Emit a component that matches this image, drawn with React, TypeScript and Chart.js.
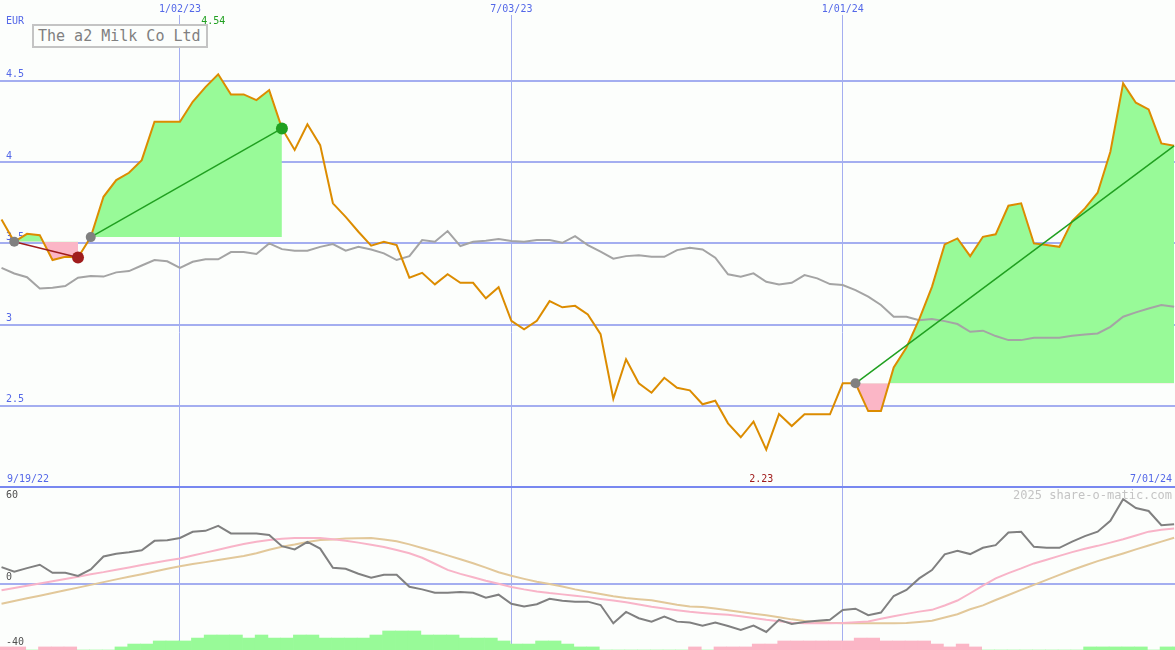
import React, { useEffect, useRef } from 'react';
import { Chart, registerables } from 'chart.js';

Chart.register(...registerables);

// ---------- data ----------
const FIRST_WEEK = -14; // weeks relative to 1/02/23
const X_MIN = -14.12;
const X_MAX = 78.07;

const X_TICKS = [0, 26, 52];
const X_TICK_LABELS = ['1/02/23', '7/03/23', '1/01/24'];
const START_LABEL = '9/19/22';
const END_LABEL = '7/01/24';
const CURRENCY = 'EUR';
const TITLE = 'The a2 Milk Co Ltd';
const WATERMARK = '2025 share-o-matic.com';

const PRICE_TICKS = [2.5, 3, 3.5, 4, 4.5];
const PRICE_MIN = 2;
const PRICE_MAX = 4.905;
const OSC_TICKS = [-40, 0, 60];
const OSC_MIN = -41.1;
const OSC_MAX = 60;

// share price (EUR), weekly
const PRICE = [
  3.646, 3.509, 3.558, 3.550, 3.397, 3.417, 3.413, 3.538, 3.786, 3.889,
  3.934, 4.012, 4.248, 4.248, 4.248, 4.371, 4.461, 4.54, 4.416, 4.416,
  4.381, 4.443, 4.207, 4.074, 4.232, 4.104, 3.746, 3.663, 3.571, 3.485,
  3.509, 3.489, 3.288, 3.318, 3.247, 3.310, 3.257, 3.257, 3.161, 3.230,
  3.023, 2.970, 3.023, 3.144, 3.106, 3.115, 3.062, 2.941, 2.543, 2.786,
  2.638, 2.580, 2.672, 2.611, 2.595, 2.509, 2.531, 2.392, 2.306, 2.402,
  2.23, 2.449, 2.375, 2.447, 2.447, 2.447, 2.638, 2.638, 2.467, 2.467,
  2.736, 2.859, 3.032, 3.232, 3.493, 3.530, 3.421, 3.540, 3.555, 3.731,
  3.746, 3.499, 3.489, 3.478, 3.637, 3.715, 3.811, 4.063, 4.484, 4.365,
  4.324, 4.115, 4.100,
];

// comparison index (scaled), weekly
const INDEX = [
  3.349, 3.314, 3.291, 3.222, 3.227, 3.237, 3.288, 3.298, 3.295, 3.321,
  3.329, 3.363, 3.397, 3.389, 3.349, 3.386, 3.401, 3.401, 3.446, 3.446,
  3.434, 3.499, 3.464, 3.454, 3.454, 3.478, 3.495, 3.454, 3.478, 3.462,
  3.438, 3.397, 3.421, 3.520, 3.509, 3.575, 3.483, 3.509, 3.515, 3.526,
  3.514, 3.509, 3.520, 3.520, 3.503, 3.544, 3.489, 3.448, 3.405, 3.421,
  3.427, 3.417, 3.417, 3.458, 3.472, 3.462, 3.411, 3.309, 3.294, 3.315,
  3.263, 3.247, 3.257, 3.304, 3.284, 3.249, 3.243, 3.212, 3.171, 3.120,
  3.048, 3.048, 3.027, 3.034, 3.021, 3.003, 2.955, 2.962, 2.929, 2.904,
  2.904, 2.918, 2.918, 2.918, 2.931, 2.939, 2.945, 2.986, 3.048, 3.075,
  3.099, 3.120, 3.109,
];

// oscillator (dark line)
const OSC = [
  10.3, 7.4, 9.7, 11.8, 6.8, 6.8, 4.8, 8.9, 16.9, 18.6,
  19.6, 20.8, 26.6, 27.0, 28.4, 32.2, 32.8, 35.9, 31.2, 31.2,
  31.2, 30.3, 23.3, 21.3, 26.0, 21.8, 9.9, 9.3, 6.2, 3.7,
  5.6, 5.6, -1.9, -3.5, -5.6, -5.6, -5.1, -5.6, -8.7, -6.8,
  -12.4, -14.1, -12.7, -9.3, -10.5, -11.1, -11.1, -13.2, -24.5, -17.5,
  -21.4, -23.5, -20.4, -23.5, -24.1, -26.0, -24.1, -26.2, -28.6, -26.0,
  -29.9, -22.4, -24.9, -23.7, -22.9, -22.4, -16.3, -15.5, -19.5, -17.9,
  -7.6, -3.9, 3.3, 8.5, 18.2, 20.4, 18.4, 22.3, 23.9, 31.8,
  32.2, 22.9, 22.3, 22.3, 26.1, 29.5, 32.3, 39.0, 52.4, 47.0,
  45.1, 36.3, 36.9,
];

// fast signal (pink)
const OSC_FAST = [
  -4.1, -2.7, -1.3, 0.1, 1.5, 3.0, 4.4, 5.9, 7.2, 8.7,
  10.1, 11.6, 13.0, 14.4, 15.7, 17.5, 19.3, 21.1, 22.9, 24.7,
  26.1, 27.1, 27.9, 28.3, 28.4, 28.4, 27.6, 26.7, 25.5, 24.2,
  22.8, 20.9, 18.9, 16.1, 12.4, 8.6, 6.1, 4.0, 1.9, 0.0,
  -2.0, -3.5, -4.8, -5.8, -6.6, -7.4, -8.3, -9.4, -10.4, -11.5,
  -12.9, -14.3, -15.3, -16.4, -17.4, -18.1, -18.7, -19.2, -20.2, -21.3,
  -22.4, -23.3, -24.2, -24.5, -24.5, -24.5, -24.3, -23.9, -23.4, -21.7,
  -20.2, -18.7, -17.3, -16.2, -13.5, -10.4, -5.9, -1.2, 3.3, 6.6,
  9.5, 12.6, 14.9, 17.3, 19.6, 21.7, 23.5, 25.5, 27.6, 29.9,
  32.3, 33.5, 34.2,
];

// slow signal (tan)
const OSC_SLOW = [
  -12.4, -10.7, -9.0, -7.4, -5.7, -4.0, -2.4, -0.7, 1.0, 2.7,
  4.3, 5.9, 7.6, 9.3, 10.9, 12.2, 13.4, 14.7, 15.9, 17.2,
  18.9, 21.1, 23.0, 24.3, 25.9, 27.1, 27.5, 28.0, 28.2, 28.4,
  27.4, 26.3, 24.4, 22.2, 20.0, 17.6, 15.2, 12.7, 10.0, 7.1,
  4.9, 3.0, 1.2, -0.1, -1.7, -3.5, -5.0, -6.4, -7.7, -8.8,
  -9.6, -10.3, -11.7, -13.1, -14.1, -14.5, -15.4, -16.4, -17.6, -18.6,
  -19.5, -20.8, -22.1, -23.1, -23.7, -24.2, -24.5, -24.5, -24.5, -24.5,
  -24.5, -24.4, -23.7, -23.0, -21.0, -18.9, -15.8, -13.4, -10.1, -7.0,
  -3.8, -0.7, 2.4, 5.5, 8.5, 11.3, 14.0, 16.4, 18.8, 21.3,
  23.7, 26.1, 28.5,
];

// histogram (signed)
const HIST = [
  -1.9, -1.9, 0, -1.9, -1.9, -1.9, 0, 0, 0, 1.9,
  3.7, 3.7, 5.6, 5.6, 5.6, 7.4, 9.3, 9.3, 9.3, 7.4,
  9.3, 7.4, 7.4, 9.3, 9.3, 7.4, 7.4, 7.4, 7.4, 9.3,
  11.8, 11.8, 11.8, 9.3, 9.3, 9.3, 7.4, 7.4, 7.4, 5.6,
  3.7, 3.7, 5.6, 5.6, 3.7, 1.9, 1.9, 0, 0, 0,
  0, 0, 0, 0, -1.9, 0, -1.9, -1.9, -1.9, -3.7,
  -3.7, -5.6, -5.6, -5.6, -5.6, -5.6, -5.6, -7.4, -7.4, -5.6,
  -5.6, -5.6, -5.6, -3.7, -1.9, -3.7, -1.9, 0, 0, 0,
  0, 0, 0, 0, 0, 1.9, 1.9, 1.9, 1.9, 1.9,
  0, 1.9, 1.9,
];

// trend segments (week numbers)
const TREND_START = [-13, -7, 53];
const TREND_END = [-8, 8, 78];
const TREND_CONFIRMED = [true, true, false];

// ---------- styles ----------
const BG = '#fcfefc';
const GRID = '#a4aef0';
const SEP = '#7888f0';
const BLUE = '#5468e8';
const ORANGE = '#dc8c00';
const GREY = '#a4a4a4';
const DARK = '#808080';
const PINK_LINE = '#f8b4c8';
const TAN_LINE = '#e2c89a';
const GREEN_FILL = '#98fa98';
const PINK_FILL = '#fbb6c6';
const UP = '#20a020';
const DOWN = '#a01c1c';
const DOT_GREY = '#808080';
const HIST_SHIFT = 0.4;
const FONT = '"DejaVu Sans Mono", monospace';

Chart.defaults.font.family = FONT;

const priceAt = (w: number) => PRICE[w - FIRST_WEEK];
const series = (arr: number[]) => arr.map((v, i) => ({ x: FIRST_WEEK + i, y: v }));
const span = (a: number, b: number) =>
  PRICE.slice(a - FIRST_WEEK, b - FIRST_WEEK + 1).map((v, i) => ({ x: a + i, y: v }));

const annotations = {
  id: 'annotations',
  afterDraw(chart: any) {
    const { ctx, chartArea } = chart;
    const x = chart.scales.x;
    const y = chart.scales.y;
    const y2 = chart.scales.y2;
    ctx.save();
    ctx.font = '10px ' + FONT;
    ctx.textBaseline = 'middle';
    const topRow = chartArea.top + 6.5;
    const dateRow = y.getPixelForValue(PRICE_MIN) - 8;

    ctx.fillStyle = BLUE;
    ctx.textAlign = 'left';
    ctx.fillText(CURRENCY, chartArea.left + 6, topRow);
    ctx.fillText(START_LABEL, chartArea.left + 7, dateRow);
    ctx.textAlign = 'right';
    ctx.fillText(END_LABEL, x.getPixelForValue(FIRST_WEEK + PRICE.length - 1) - 2, dateRow);

    const hi = PRICE.indexOf(Math.max(...PRICE));
    const lo = PRICE.indexOf(Math.min(...PRICE));
    ctx.textAlign = 'center';
    ctx.fillStyle = UP;
    ctx.fillText(PRICE[hi].toFixed(2), x.getPixelForValue(FIRST_WEEK + hi) - 5, topRow);
    ctx.fillStyle = DOWN;
    ctx.fillText(PRICE[lo].toFixed(2), x.getPixelForValue(FIRST_WEEK + lo) - 5, dateRow);

    ctx.font = '12px ' + FONT;
    ctx.fillStyle = '#c4c4c4';
    ctx.textAlign = 'right';
    ctx.fillText(WATERMARK, chartArea.right - 3, y2.top + 9);
    ctx.restore();
  },
};

function buildDatasets() {
  const ds: any[] = [];
  TREND_START.forEach((s, k) => {
    const e = TREND_END[k];
    const c = priceAt(e) >= priceAt(s) ? UP : DOWN;
    ds.push({
      type: 'line',
      xAxisID: 'x',
      yAxisID: 'y',
      data: [
        { x: s, y: priceAt(s) },
        { x: e, y: priceAt(e) },
      ],
      borderColor: c,
      borderWidth: 1.5,
      pointRadius: [5, TREND_CONFIRMED[k] ? 6 : 0],
      pointBackgroundColor: [DOT_GREY, c],
      pointBorderWidth: 0,
      order: 0,
    });
    ds.push({
      type: 'line',
      xAxisID: 'x',
      yAxisID: 'y',
      data: span(s, e),
      borderWidth: 0,
      borderColor: 'rgba(0,0,0,0)',
      pointRadius: 0,
      fill: { target: { value: priceAt(s) }, above: GREEN_FILL, below: PINK_FILL },
      order: 3,
    });
  });
  ds.push({
    type: 'line', xAxisID: 'x', yAxisID: 'y', data: series(PRICE),
    borderColor: ORANGE, borderWidth: 2, pointRadius: 0, order: 1,
  });
  ds.push({
    type: 'line', xAxisID: 'x', yAxisID: 'y', data: series(INDEX),
    borderColor: GREY, borderWidth: 2, pointRadius: 0, order: 2,
  });
  ds.push({
    type: 'line', xAxisID: 'x', yAxisID: 'y2', data: series(OSC),
    borderColor: DARK, borderWidth: 2, pointRadius: 0, order: 4,
  });
  ds.push({
    type: 'line', xAxisID: 'x', yAxisID: 'y2', data: series(OSC_FAST),
    borderColor: PINK_LINE, borderWidth: 2, pointRadius: 0, order: 5,
  });
  ds.push({
    type: 'line', xAxisID: 'x', yAxisID: 'y2', data: series(OSC_SLOW),
    borderColor: TAN_LINE, borderWidth: 2, pointRadius: 0, order: 6,
  });
  ds.push({
    type: 'bar', xAxisID: 'x', yAxisID: 'y2',
    data: HIST.map((h, i) => ({ x: FIRST_WEEK + i + HIST_SHIFT, y: OSC_MIN + Math.abs(h) })),
    base: OSC_MIN,
    backgroundColor: HIST.map((h) => (h >= 0 ? GREEN_FILL : PINK_FILL)),
    borderWidth: 0,
    barPercentage: 1,
    categoryPercentage: 1,
    order: 7,
  });
  return ds;
}

export default function App() {
  const ref = useRef<HTMLCanvasElement>(null);

  useEffect(() => {
    if (!ref.current) return;
    const chart = new Chart(ref.current, {
      type: 'line',
      data: { datasets: buildDatasets() },
      options: {
        animation: false,
        responsive: false,
        events: [],
        layout: { autoPadding: false, padding: { top: 3, left: 0, right: 0, bottom: 0 } },
        elements: { line: { tension: 0 }, point: { radius: 0 } },
        plugins: {
          legend: { display: false },
          tooltip: { enabled: false },
          title: { display: false },
        },
        scales: {
          x: {
            type: 'linear',
            position: 'top',
            min: X_MIN,
            max: X_MAX,
            offset: false,
            afterBuildTicks: (s: any) => {
              s.ticks = X_TICKS.map((v) => ({ value: v }));
            },
            afterFit: (s: any) => {
              s.paddingLeft = 0;
              s.paddingRight = 0;
            },
            ticks: {
              padding: 0,
              maxRotation: 0,
              autoSkip: false,
              color: BLUE,
              font: { size: 10 },
              callback: (_v: any, i: number) => X_TICK_LABELS[i],
            },
            grid: { color: GRID, lineWidth: 1, drawTicks: false, offset: false },
            border: { display: false },
          },
          y: {
            type: 'linear',
            position: 'left',
            stack: 'panels',
            stackWeight: 472,
            weight: 2,
            min: PRICE_MIN,
            max: PRICE_MAX,
            afterBuildTicks: (s: any) => {
              s.ticks = PRICE_TICKS.map((v) => ({ value: v }));
            },
            afterFit: (s: any) => {
              s.width = 0;
              s.paddingTop = 0;
              s.paddingBottom = 0;
            },
            ticks: {
              mirror: true,
              padding: 6,
              labelOffset: 1,
              color: BLUE,
              font: { size: 10, lineHeight: 1.4 },
              callback: (v: any) => [String(v), ''],
            },
            grid: { color: GRID, lineWidth: 2, drawTicks: false, offset: false },
            border: { display: false },
          },
          y2: {
            type: 'linear',
            position: 'left',
            stack: 'panels',
            stackWeight: 163,
            weight: 1,
            min: OSC_MIN,
            max: OSC_MAX,
            afterBuildTicks: (s: any) => {
              s.ticks = OSC_TICKS.map((v) => ({ value: v }));
            },
            afterFit: (s: any) => {
              s.width = 0;
              s.paddingTop = 0;
              s.paddingBottom = 0;
            },
            ticks: {
              mirror: true,
              padding: 6,
              labelOffset: 1,
              color: '#505050',
              font: { size: 10, lineHeight: 1.4 },
              callback: (v: any) => (v === OSC_MAX ? ['', String(v)] : [String(v), '']),
            },
            grid: {
              drawTicks: false,
              offset: false,
              lineWidth: 2,
              color: (ctx: any) =>
                ctx.tick && ctx.tick.value === 0
                  ? GRID
                  : ctx.tick && ctx.tick.value === OSC_MAX
                  ? SEP
                  : 'rgba(0,0,0,0)',
            },
            border: { display: false },
          },
        },
      } as any,
      plugins: [annotations],
    } as any);
    return () => chart.destroy();
  }, []);

  return (
    <div
      style={{
        position: 'fixed',
        left: 0,
        top: 0,
        width: 1175,
        height: 650,
        background: BG,
        overflow: 'hidden',
      }}
    >
      <canvas ref={ref} width={1175} height={650} style={{ display: 'block', width: 1175, height: 650 }} />
      <div
        style={{
          position: 'absolute',
          left: 32,
          top: 24,
          width: 176,
          height: 24,
          boxSizing: 'border-box',
          border: '2px solid #c4c4c4',
          background: BG,
          color: '#808080',
          font: '15px ' + FONT,
          lineHeight: '20px',
          paddingLeft: 4,
          whiteSpace: 'nowrap',
        }}
      >
        {TITLE}
      </div>
    </div>
  );
}
